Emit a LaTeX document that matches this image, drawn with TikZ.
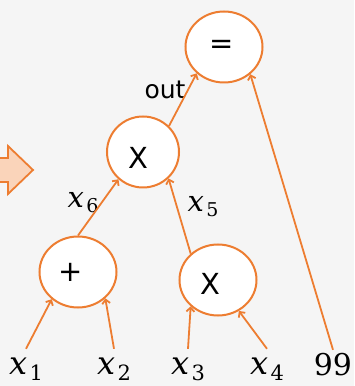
\documentclass[tikz,border=0pt]{standalone}
\usepackage{fontspec}
\setmainfont{DejaVu Sans}
\newfontfamily\dvserif{DejaVu Serif}
\usetikzlibrary{shapes.geometric,arrows.meta}
\definecolor{org}{HTML}{ED7D31}
\definecolor{bg}{HTML}{F5F5F5}
\definecolor{peach}{HTML}{FAD4BA}
\newcommand\xvar[4]{{\fontsize{#2}{#2}\selectfont\dvserif\itshape x}\kern2.5pt\raisebox{-#4}{\fontsize{#3}{#3}\selectfont\dvserif #1}}
\newcommand\nudge[3]{\makebox[0pt]{\kern#1\raisebox{#2}[\height][\depth]{#3}\kern-#1}}
\tikzset{
  op/.style={ellipse, draw=org, fill=white, line width=2pt, minimum width=77pt, minimum height=71pt, inner sep=0pt, font=\fontsize{29}{29}\selectfont},
  lab/.style={anchor=base, inner sep=0pt, text height=22pt, inner ysep=4pt},
  mid/.style={anchor=base, inner sep=0pt},
  arr/.style={draw=org, line width=1.8pt, -{Straight Barb[length=4pt,width=8pt]}}
}
\begin{document}
\begin{tikzpicture}[x=1pt,y=1pt]
\useasboundingbox (0,0) rectangle (354,386);
\fill[bg] (0,0) rectangle (354,386);
% partial block arrow at the left edge
\filldraw[fill=peach, draw=org, line width=1.8pt] (-3,228) -- (8,228) -- (8,240) -- (33,216) -- (8,192) -- (8,204) -- (-3,204) -- cycle;
% operation nodes
\node[op] (eq) at (224,339) {\nudge{-2.5pt}{0pt}{=}};
\node[op, minimum width=72pt] (m1) at (143,234) {\nudge{-5pt}{-6pt}{X}};
\node[op] (pl) at (78,114) {\nudge{-7pt}{0pt}{+}};
\node[op] (m2) at (218,106) {\nudge{-8pt}{-3.5pt}{X}};
% inputs
\node[lab] (x1) at (26,11) {\xvar{1}{32}{21}{5.5pt}};
\node[lab] (x2) at (114,11) {\xvar{2}{32}{21}{5.5pt}};
\node[lab] (x3) at (188,11) {\xvar{3}{32}{21}{5.5pt}};
\node[lab] (x4) at (267,11) {\xvar{4}{32}{21}{5.5pt}};
\node[lab] (n99) at (333,10) {\fontsize{30}{30}\selectfont\dvserif 99};
% edge labels
\node[mid] (l6) at (83,178) {\xvar{6}{29}{19}{5pt}};
\node[mid] (l5) at (203,174) {\xvar{5}{29}{19}{5pt}};
\node[mid, font=\fontsize{25}{25}\selectfont] (out) at (165,287) {out};
% connectors
\draw[arr] (x1.north) -- (pl.226);
\draw[arr] (x2.north) -- (pl.316);
\draw[arr] (x3.north) -- (m2.224);
\draw[arr] (x4.north) -- (m2.304);
\draw[arr] (n99.north) -- (eq.314);
\draw[arr] (pl.90) -- (m1.228);
\draw[arr] (m2.136) -- (m1.314);
\draw[arr] (m1.45) -- (eq.224);
\end{tikzpicture}
\end{document}
